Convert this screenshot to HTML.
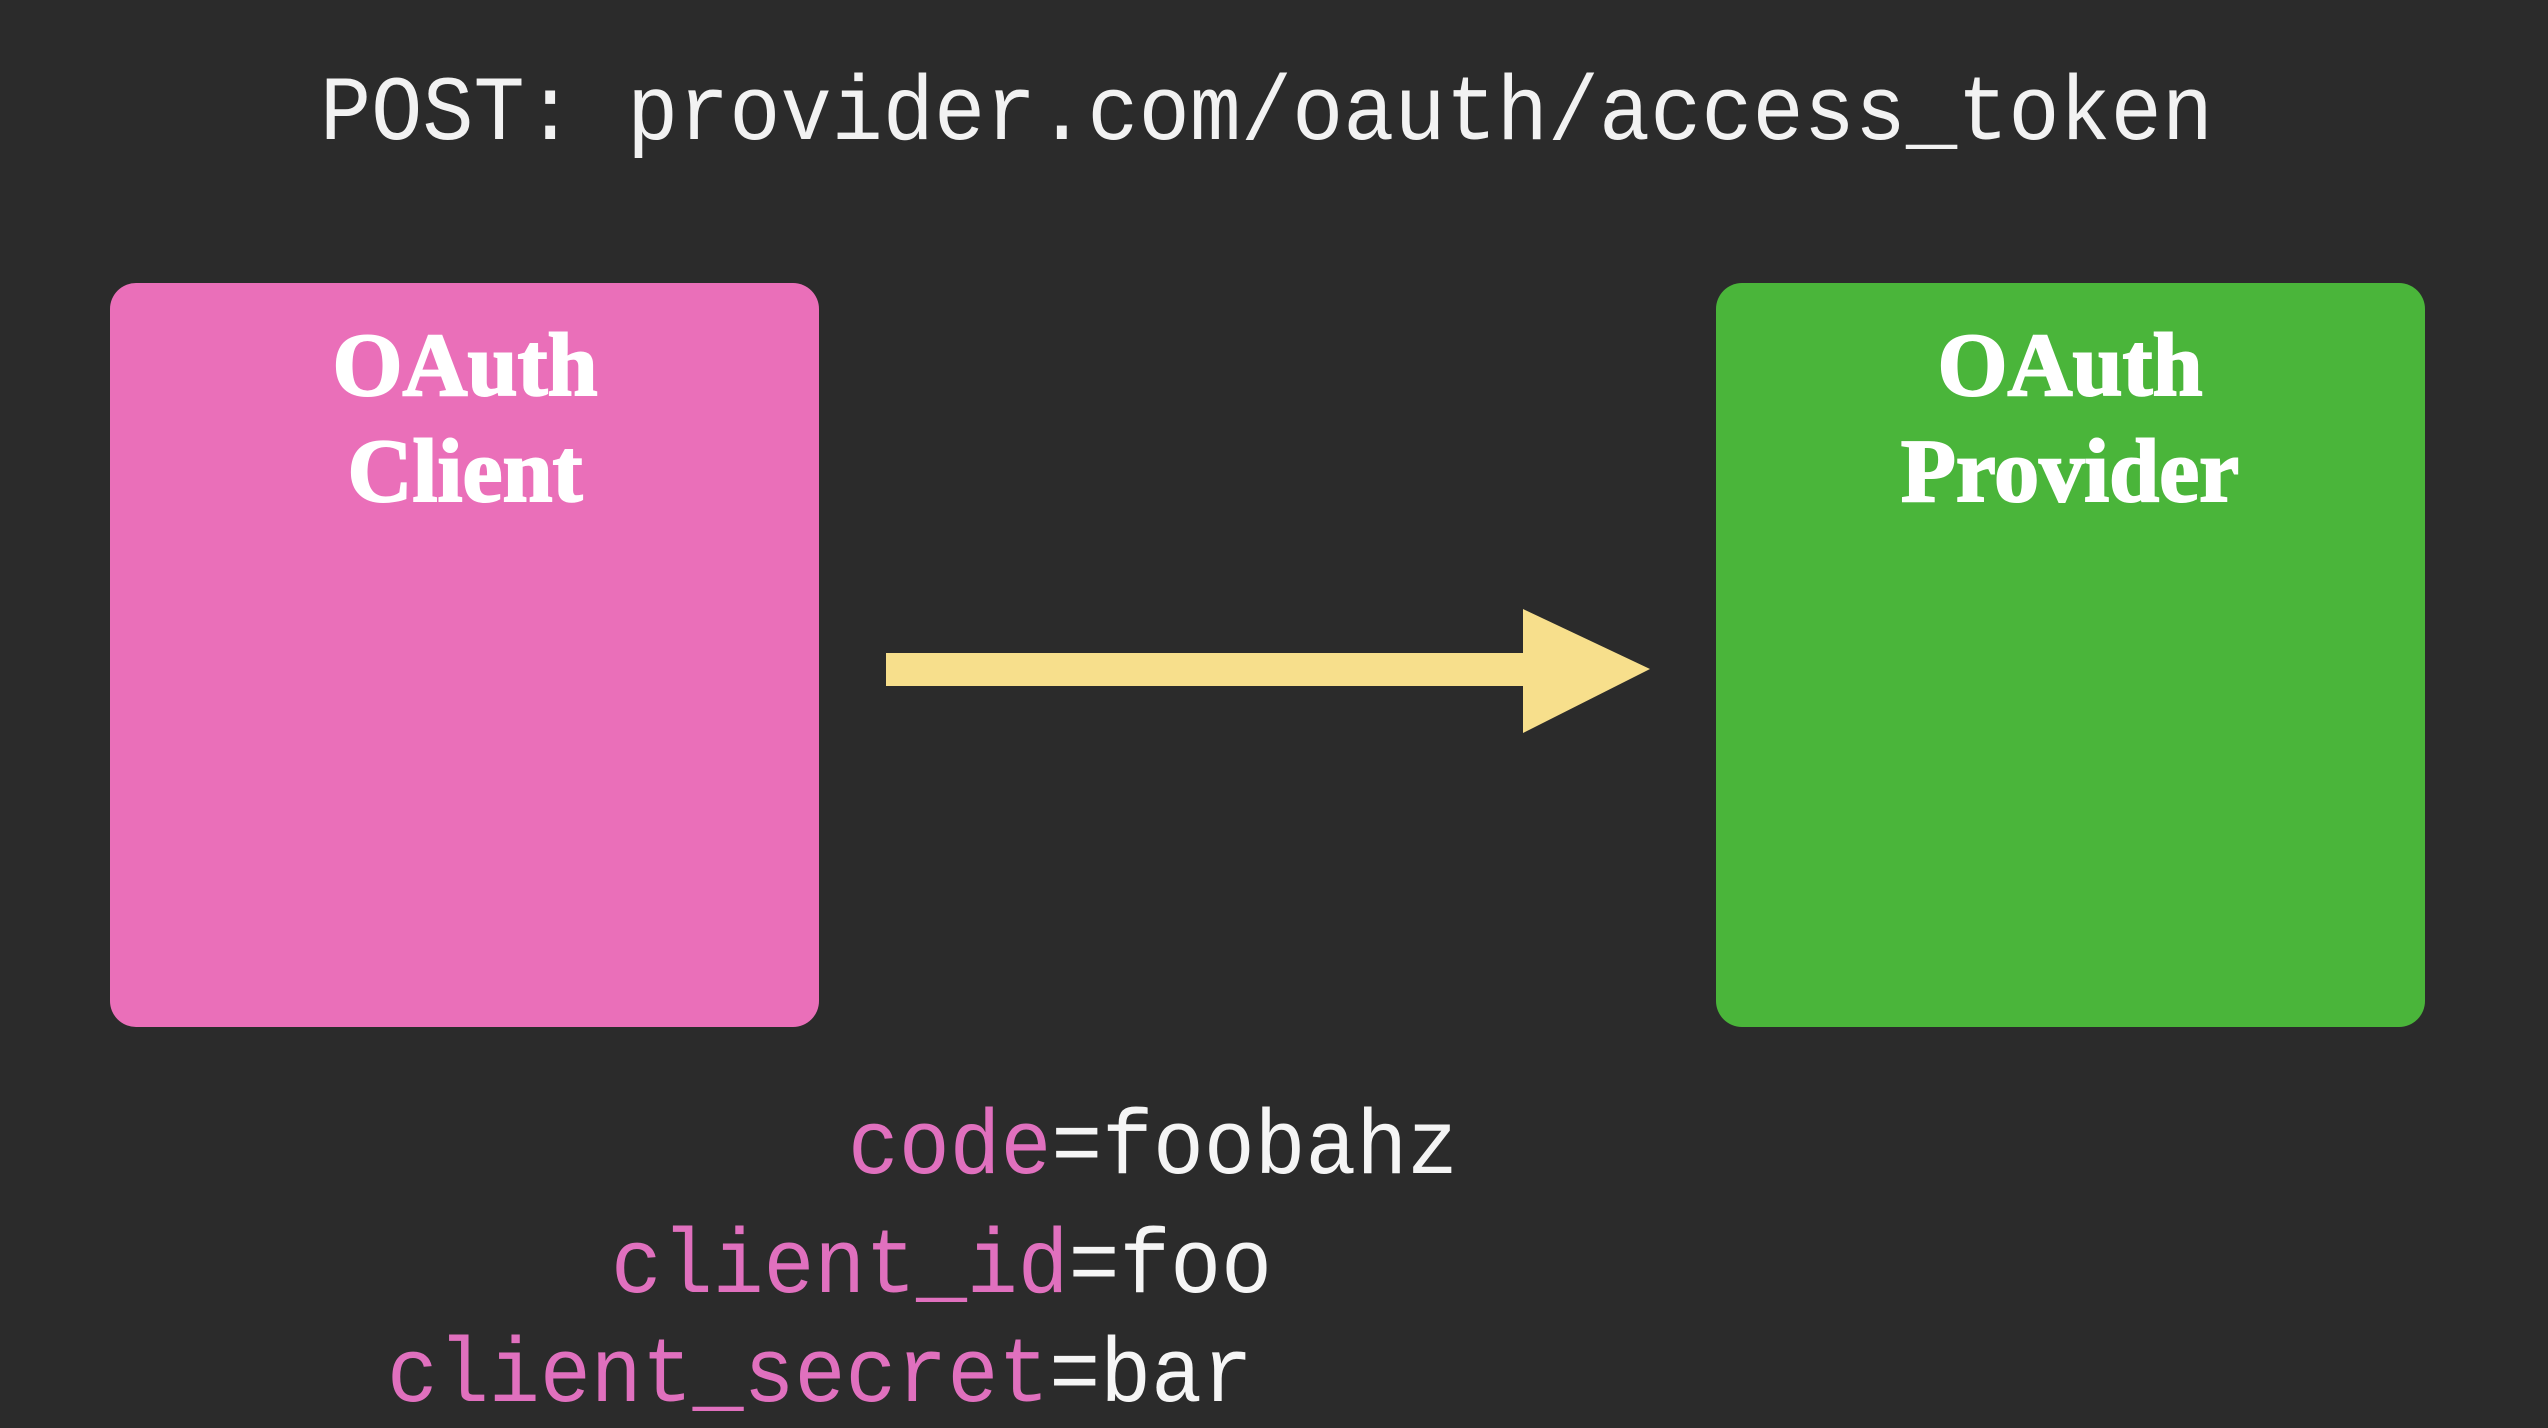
<!DOCTYPE html>
<html><head><meta charset="utf-8"><style>
html,body{margin:0;padding:0;background:#2b2b2b;}
svg{display:block}
</style></head><body>
<svg width="2548" height="1428" viewBox="0 0 2548 1428" xmlns="http://www.w3.org/2000/svg">
<rect width="2548" height="1428" fill="#2b2b2b"/>
<text x="320" y="139" font-family="Liberation Mono, monospace" font-size="92" fill="#f2f2f2" textLength="1893" lengthAdjust="spacingAndGlyphs">POST: provider.com/oauth/access_token</text>
<rect x="110" y="283" width="709" height="744" rx="26" fill="#ea6fb9"/>
<rect x="1716" y="283" width="709" height="744" rx="26" fill="#4ab53a"/>
<g font-family="Liberation Serif, serif" font-weight="bold" font-size="90" fill="#ffffff" text-anchor="middle" stroke="#ffffff" stroke-width="2">
<text x="465" y="395">OAuth</text>
<text x="465" y="501">Client</text>
<text x="2070" y="395">OAuth</text>
<text x="2070" y="501">Provider</text>
</g>
<rect x="886" y="653" width="646" height="33" fill="#f7df8c"/>
<polygon points="1523,609 1650,669 1523,733" fill="#f7df8c"/>
<g font-family="Liberation Mono, monospace" font-size="92">
<text x="848" y="1173" textLength="610" lengthAdjust="spacingAndGlyphs"><tspan fill="#e070be">code</tspan><tspan fill="#f5f5f5">=foobahz</tspan></text>
<text x="611" y="1292" textLength="661" lengthAdjust="spacingAndGlyphs"><tspan fill="#e070be">client_id</tspan><tspan fill="#f5f5f5">=foo</tspan></text>
<text x="387" y="1401" textLength="866" lengthAdjust="spacingAndGlyphs"><tspan fill="#e070be">client_secret</tspan><tspan fill="#f5f5f5">=bar</tspan></text>
</g>
</svg>
</body></html>
